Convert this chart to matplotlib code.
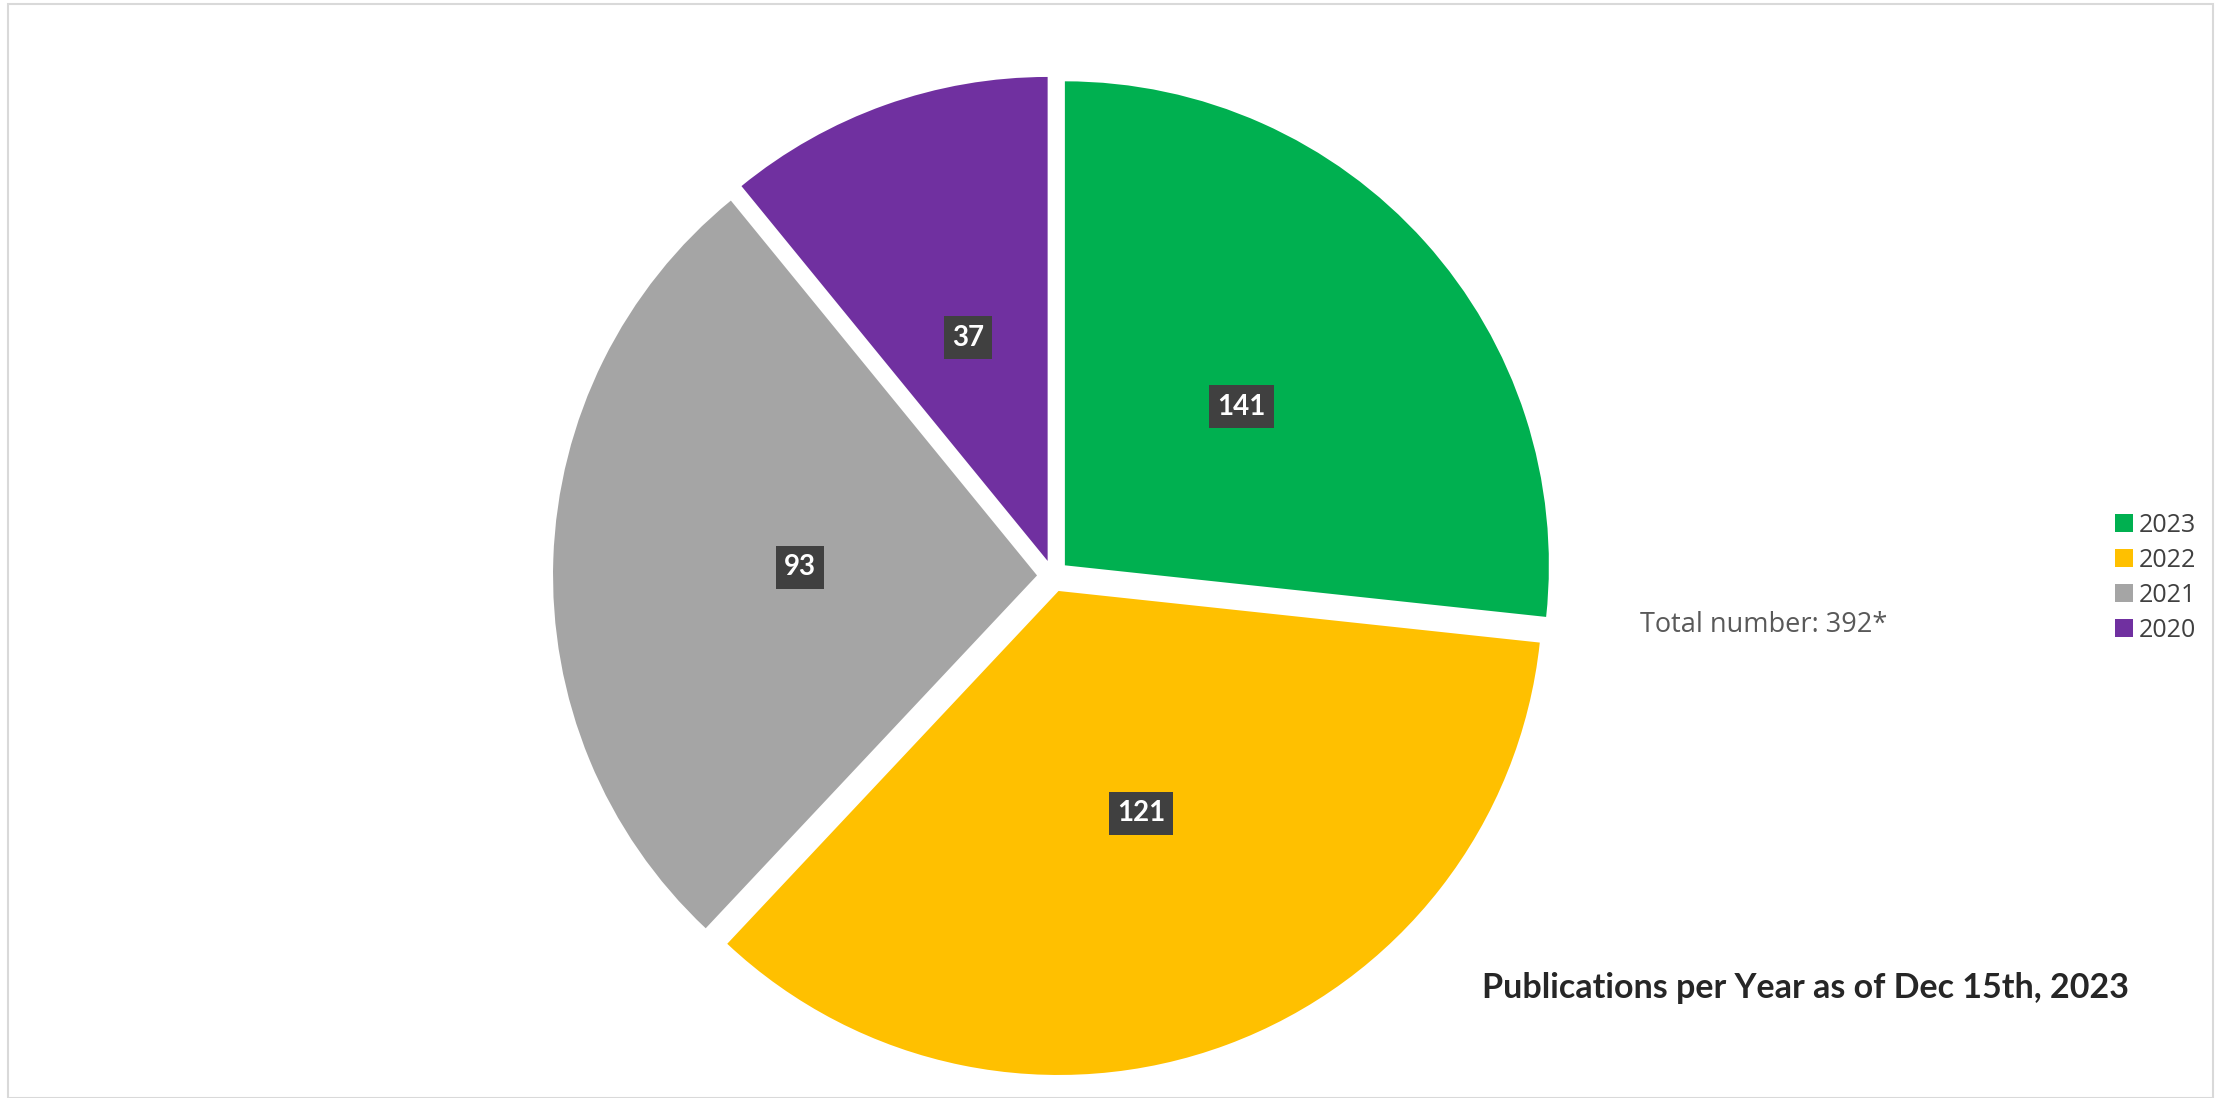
import matplotlib.pyplot as plt
from matplotlib.patches import Rectangle

# Datos
years = ['2023', '2022', '2021', '2020']
counts = [141, 121, 93, 37]                 # etiquetas mostradas en el grafico
shares = [26.7, 35.3, 27.1, 10.9]           # tamano de cada porcion (%)
colors = ['#00B050', '#FFC000', '#A5A5A5', '#7030A0']
total_text = 'Total number: 392*'
title_text = 'Publications per Year as of Dec 15th, 2023'

W, H = 2219, 1098
fig = plt.figure(figsize=(W / 100, H / 100), dpi=100)

# Eje del pastel, centro ~ (1053, 576) px, radio ~ 484 px
R, cx, cy = 484, 1053, 576
half = 1.1 * R
ax = fig.add_axes([(cx - half) / W, (H - cy - half) / H, 2 * half / W, 2 * half / H])
wedges, texts = ax.pie(shares, labels=[str(c) for c in counts], colors=colors,
                       startangle=90, counterclock=False, explode=[0.033] * 4,
                       labeldistance=0.49, wedgeprops=dict(linewidth=0))
ax.set_xlim(-1.1, 1.1)
ax.set_ylim(-1.1, 1.1)
ax.set_aspect('equal')
ax.axis('off')

for t in texts:
    t.set_ha('center')
    t.set_va('center')
    t.set_color('white')
    t.set_fontweight('bold')
    t.set_fontsize(20)
    t.set_family('Lato')
    t.set_bbox(dict(boxstyle='square,pad=0.3', facecolor='#404040', edgecolor='none'))

# Leyenda
fig.legend(wedges, years, loc='center left', bbox_to_anchor=(2092 / W, 1 - 578 / H),
           frameon=False, prop=dict(family='Open Sans', size=18), handlelength=0.75,
           handleheight=0.75, handletextpad=0.2, labelspacing=0.4, labelcolor='#404040')

fig.text(1640 / W, 1 - 625 / H, total_text, fontsize=19.5, color='#595959',
         family='Open Sans', ha='left', va='center')
fig.text(1482 / W, 1 - 988 / H, title_text, fontsize=24.5, fontweight='bold',
         color='#262626', family='Lato', ha='left', va='center')

# Marco
fig.add_artist(Rectangle((8 / W, 0), (W - 14) / W, 1 - 4 / H, transform=fig.transFigure,
                         fill=False, edgecolor='#d9d9d9', linewidth=1.5))

fig.savefig('out.png', dpi=100)
